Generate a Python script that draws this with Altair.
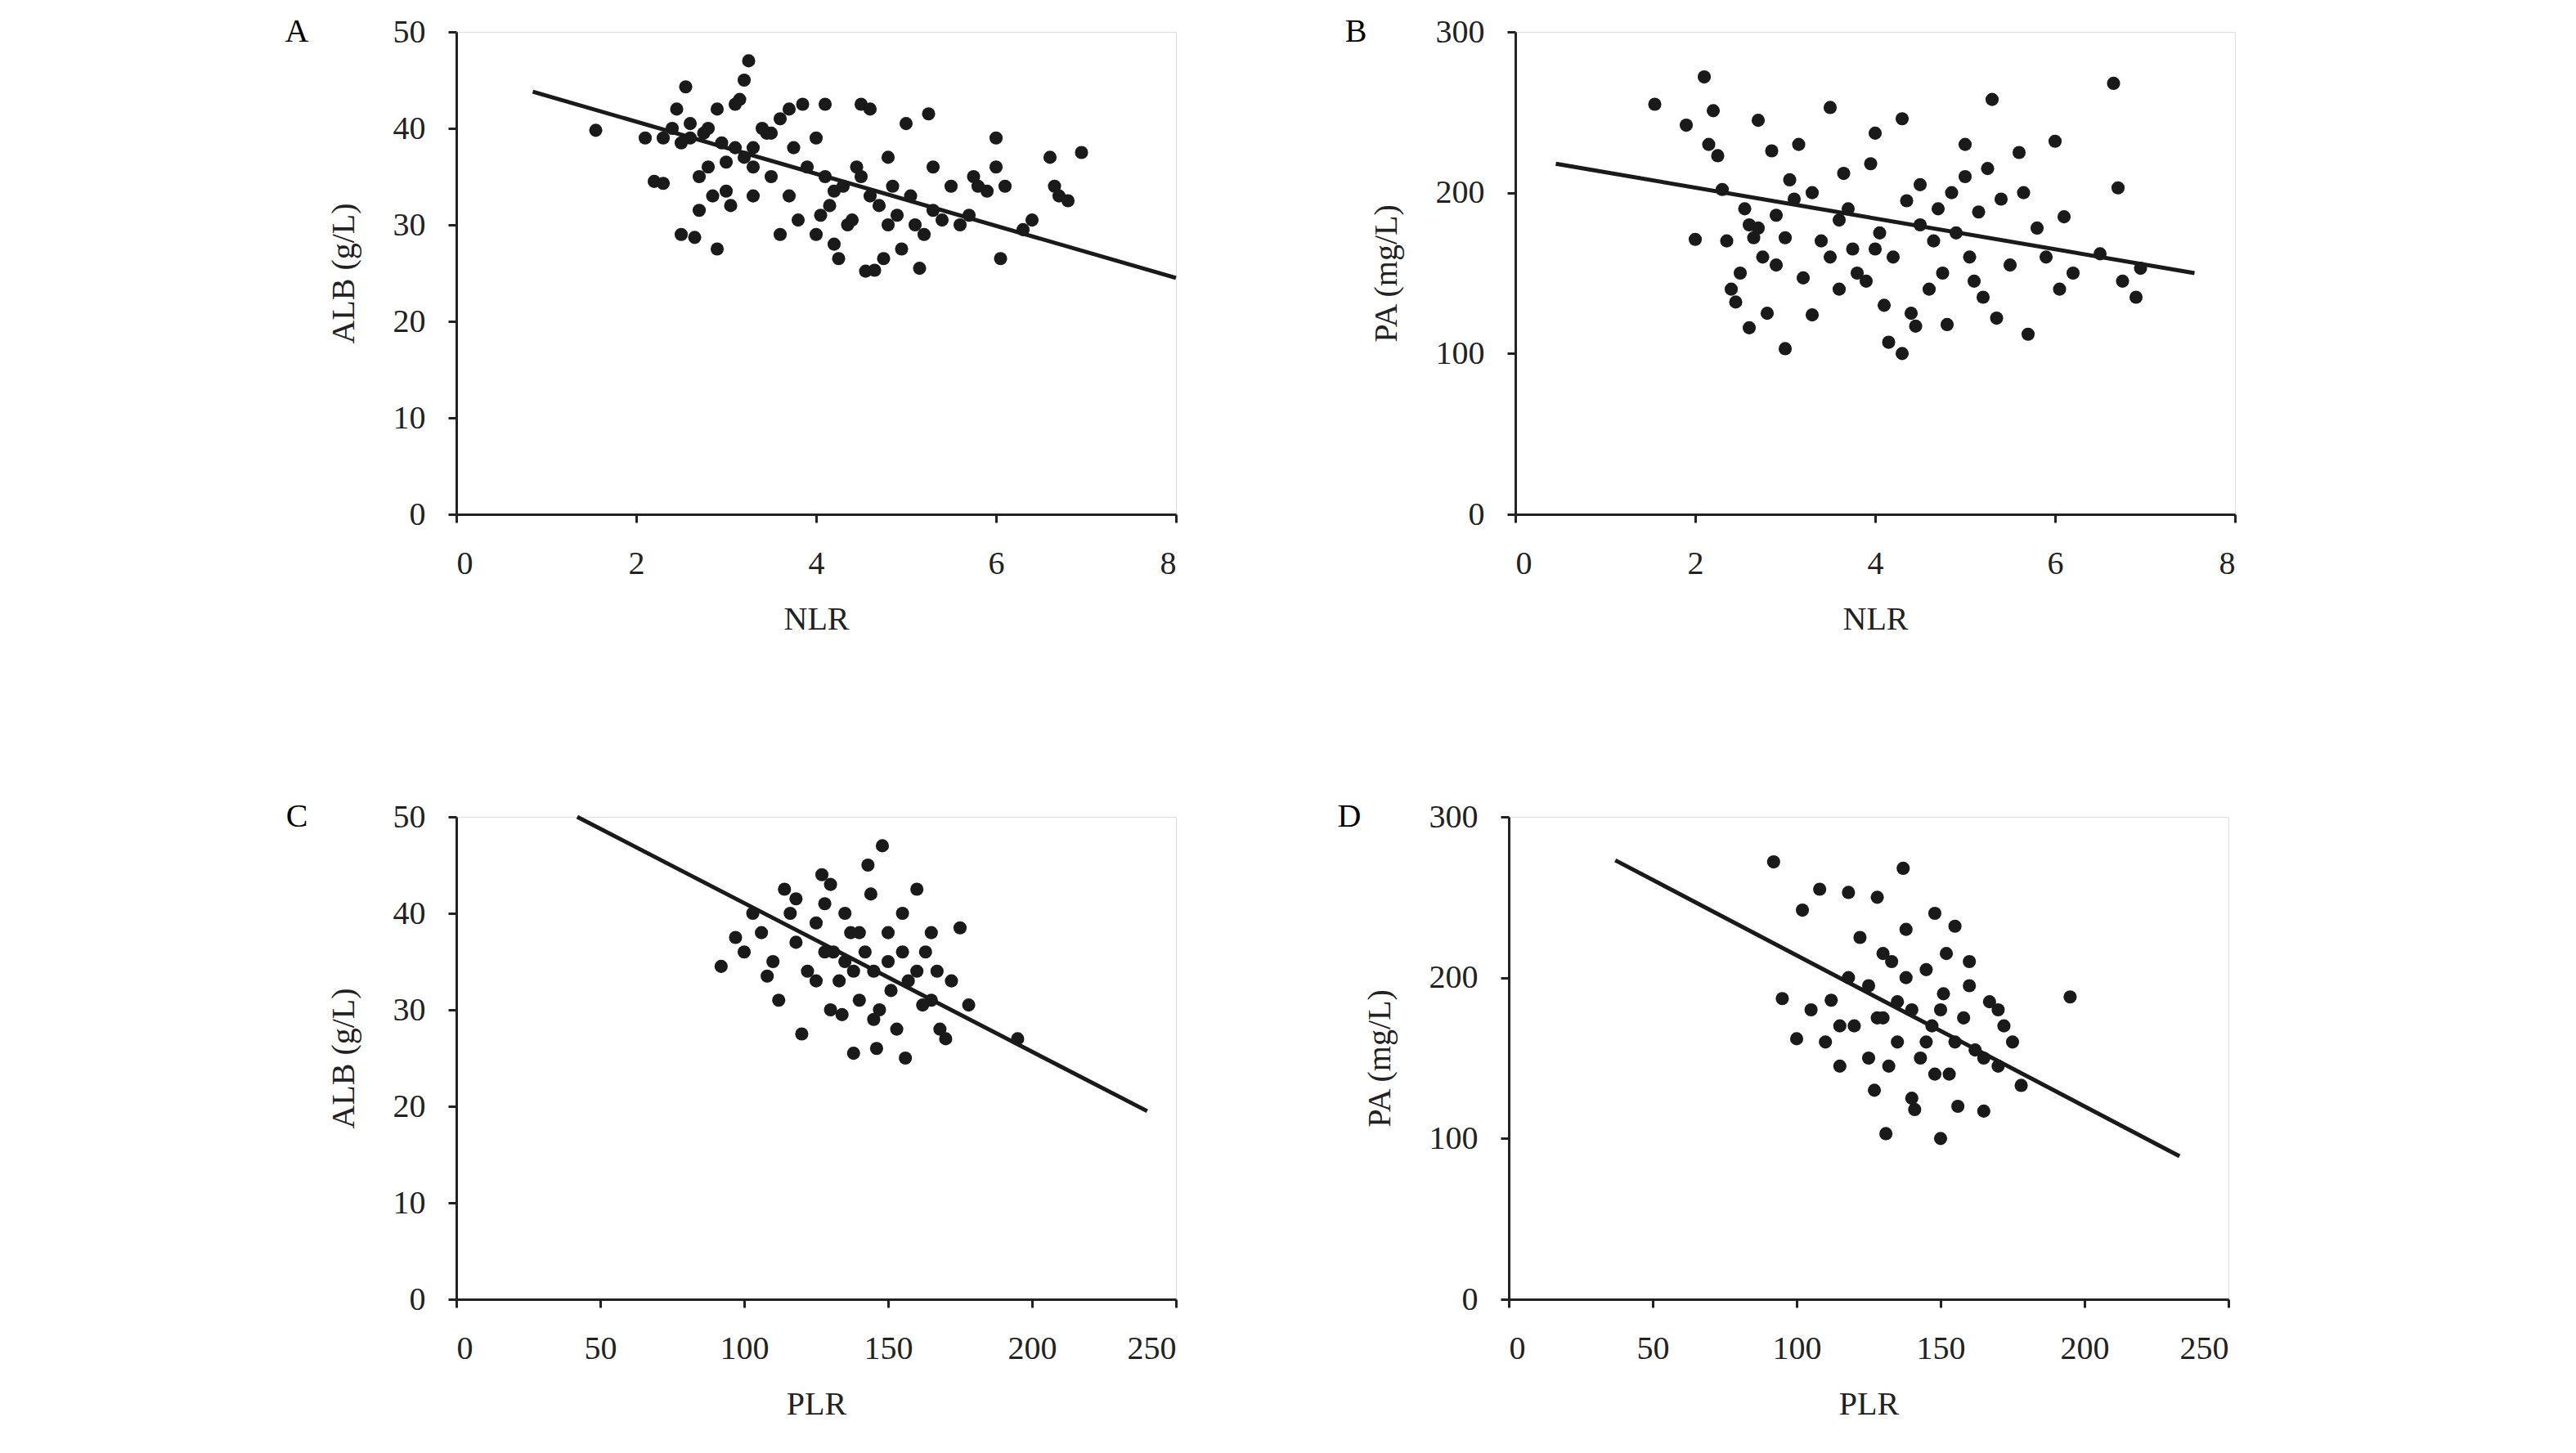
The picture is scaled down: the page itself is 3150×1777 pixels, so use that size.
import altair as alt
import pandas as pd

# Panel A: NLR vs ALB
a_x = [1.55, 2.1, 2.2, 2.3, 2.3, 2.4, 2.45, 2.5, 2.5, 2.55, 2.6, 2.65, 2.7, 2.7, 2.75, 2.8, 2.8, 2.85, 2.9, 2.9,
       2.95, 3.0, 3.0, 3.05, 3.1, 3.15, 3.2, 3.2, 3.25, 3.3, 3.3, 3.4, 3.5, 3.5, 3.6, 3.6, 3.7, 3.7, 3.75, 3.8,
       3.85, 3.9, 4.0, 4.0, 4.05, 4.1, 4.1, 4.15, 4.2, 4.25, 4.3, 4.35, 4.4, 4.45, 4.5, 4.55, 4.6, 4.6, 4.65, 4.7,
       4.75, 4.8, 4.85, 4.9, 4.95, 5.0, 5.05, 5.1, 5.15, 5.2, 5.25, 5.3, 5.4, 5.5, 5.6, 5.7, 5.75, 5.8, 5.9, 6.0,
       6.0, 6.05, 6.1, 6.3, 6.4, 6.6, 6.65, 6.7, 6.8, 6.95, 3.45, 3.1, 2.6, 4.5, 4.8, 5.3, 3.3, 4.2]
a_y = [39.8, 39, 34.5, 34.3, 39, 40, 42, 38.5, 29, 44.3, 40.5, 28.7, 35, 31.5, 39.5, 40, 36, 33, 27.5, 42,
       38.5, 33.5, 36.5, 32, 42.5, 43, 37, 45, 47, 38, 36, 40, 35, 39.5, 41, 29, 42, 33, 38, 30.5,
       42.5, 36, 39, 29, 31, 42.5, 35, 32, 28, 26.5, 34, 30, 30.5, 36, 42.5, 25.2, 42, 33, 25.3, 32,
       26.5, 37, 34, 31, 27.5, 40.5, 33, 30, 25.5, 29, 41.5, 31.5, 30.5, 34, 30, 31, 35, 34, 33.5, 36,
       39, 26.5, 34, 29.5, 30.5, 37, 34, 33, 32.5, 37.5, 39.5, 38, 39, 35, 30, 36, 33, 33.5]
a_line_x = [0.85, 8.0]
a_line_y = [43.8, 24.5]

# Panel B: NLR vs PA
b_x = [1.55, 1.9, 2.0, 2.1, 2.15, 2.2, 2.25, 2.3, 2.35, 2.4, 2.45, 2.5, 2.55, 2.6, 2.65, 2.7, 2.7, 2.75, 2.8, 2.85,
       2.9, 2.9, 3.0, 3.0, 3.05, 3.1, 3.15, 3.2, 3.3, 3.4, 3.5, 3.5, 3.6, 3.65, 3.7, 3.75, 3.8, 3.9, 3.95, 4.0,
       4.05, 4.1, 4.15, 4.2, 4.3, 4.3, 4.35, 4.4, 4.45, 4.5, 4.6, 4.65, 4.7, 4.75, 4.8, 4.85, 4.9, 5.0, 5.0, 5.05,
       5.1, 5.15, 5.2, 5.25, 5.3, 5.35, 5.4, 5.5, 5.6, 5.65, 5.7, 5.8, 5.9, 6.0, 6.05, 6.1, 6.2, 6.5, 6.65, 6.7,
       6.75, 6.9, 6.95, 3.3, 4.0, 2.6, 4.5, 3.6]
b_y = [255, 242, 171, 272, 230, 251, 223, 202, 170, 140, 132, 150, 190, 116, 172, 245, 178, 160, 125, 226,
       186, 155, 103, 172, 208, 196, 230, 147, 124, 170, 253, 160, 183, 212, 190, 165, 150, 145, 218, 237,
       175, 130, 107, 160, 246, 100, 195, 125, 117, 180, 140, 170, 190, 150, 118, 200, 175, 230, 210, 160,
       145, 188, 135, 215, 258, 122, 196, 155, 225, 200, 112, 178, 160, 232, 140, 185, 150, 162, 268, 203,
       145, 135, 153, 200, 165, 180, 205, 140]
b_line_x = [0.45, 7.55]
b_line_y = [218, 150]

# Panel C: PLR vs ALB
c_x = [92, 97, 100, 103, 106, 110, 112, 114, 116, 118, 120, 122, 125, 127, 128, 130, 131, 133, 134, 135,
       137, 138, 140, 142, 143, 144, 145, 146, 147, 148, 150, 151, 153, 155, 156, 157, 160, 162, 163, 165,
       167, 170, 172, 175, 178, 195, 118, 125, 130, 135, 140, 145, 150, 155, 160, 165, 168, 108, 128, 138]
c_y = [34.5, 37.5, 36, 40, 38, 35, 31, 42.5, 40, 37, 27.5, 34, 39, 44, 41, 43, 36, 33, 29.5, 40,
       38, 25.5, 31, 36, 45, 42, 34, 26, 30, 47, 38, 32, 28, 36, 25, 33, 42.5, 30.5, 36, 31,
       34, 27, 33, 38.5, 30.5, 27, 41.5, 33, 30, 35, 38, 29, 35, 40, 34, 38, 28, 33.5, 36, 34]
c_line_x = [42, 240]
c_line_y = [50, 19.5]

# Panel D: PLR vs PA
d_x = [92, 95, 100, 102, 105, 108, 112, 115, 118, 120, 122, 125, 127, 128, 130, 131, 133, 135, 137, 138,
       140, 141, 143, 145, 147, 148, 150, 151, 153, 155, 156, 158, 160, 162, 165, 167, 170, 172, 175, 178,
       195, 110, 118, 125, 130, 135, 140, 145, 150, 155, 160, 165, 170, 128, 138, 148, 115, 132, 152]
d_y = [272, 187, 162, 242, 180, 255, 186, 145, 253, 170, 225, 195, 130, 250, 175, 103, 210, 160, 268, 230,
       180, 118, 150, 205, 170, 240, 100, 190, 140, 232, 120, 175, 210, 155, 117, 185, 145, 170, 160, 133,
       188, 160, 200, 150, 215, 185, 125, 160, 180, 160, 195, 150, 180, 175, 200, 140, 170, 145, 215]
d_line_x = [37, 233]
d_line_y = [273, 89]

FONT = "Liberation Serif"


def panel(xs, ys, lx, ly, xdom, ydom, xticks, yticks, xtitle, ytitle, letter):
    pts = pd.DataFrame({"x": xs, "y": ys})
    line = pd.DataFrame({"x": lx, "y": ly})
    xs_ = alt.Scale(domain=xdom, nice=False, zero=False)
    ys_ = alt.Scale(domain=ydom, nice=False, zero=False)
    x_axis = alt.Axis(values=xticks, format="d", title=xtitle, grid=False, labelPadding=30, titlePadding=28)
    y_axis = alt.Axis(values=yticks, format="d", title=ytitle, grid=False, labelPadding=28, titlePadding=40)
    dots = alt.Chart(pts).mark_circle(size=260, color="#1a1a1a", opacity=1).encode(
        x=alt.X("x:Q", scale=xs_, axis=x_axis),
        y=alt.Y("y:Q", scale=ys_, axis=y_axis),
    )
    reg = alt.Chart(line).mark_line(color="#1a1a1a", strokeWidth=5).encode(
        x=alt.X("x:Q", scale=xs_), y=alt.Y("y:Q", scale=ys_)
    )
    lab = alt.Chart(pd.DataFrame({"t": [letter]})).mark_text(
        font=FONT, fontSize=40, align="center", baseline="middle"
    ).encode(text="t:N", x=alt.value(-195), y=alt.value(0))
    return (reg + dots + lab).properties(width=880, height=590)


pa = panel(a_x, a_y, a_line_x, a_line_y, [0, 8], [0, 50], [0, 2, 4, 6, 8],
           [0, 10, 20, 30, 40, 50], "NLR", "ALB (g/L)", "A")
pb = panel(b_x, b_y, b_line_x, b_line_y, [0, 8], [0, 300], [0, 2, 4, 6, 8],
           [0, 100, 200, 300], "NLR", "PA (mg/L)", "B")
pc = panel(c_x, c_y, c_line_x, c_line_y, [0, 250], [0, 50], [0, 50, 100, 150, 200, 250],
           [0, 10, 20, 30, 40, 50], "PLR", "ALB (g/L)", "C")
pd_ = panel(d_x, d_y, d_line_x, d_line_y, [0, 250], [0, 300], [0, 50, 100, 150, 200, 250],
            [0, 100, 200, 300], "PLR", "PA (mg/L)", "D")

chart = alt.vconcat(
    alt.hconcat(pa, pb, spacing=195),
    alt.hconcat(pc, pd_, spacing=195),
    spacing=200,
).properties(
    padding={"left": 340, "top": 10, "right": 10, "bottom": 10}
).configure_view(stroke=None).configure(background="white").configure_axis(
    labelFont=FONT, titleFont=FONT, labelFontSize=40, titleFontSize=40,
    labelColor="#222", titleColor="#222", titleFontWeight="normal",
    domainColor="#222", tickColor="#222", domainWidth=3, tickWidth=3, tickSize=10,
)

chart.save("out.html", embed_options={"renderer": "svg", "actions": False})
